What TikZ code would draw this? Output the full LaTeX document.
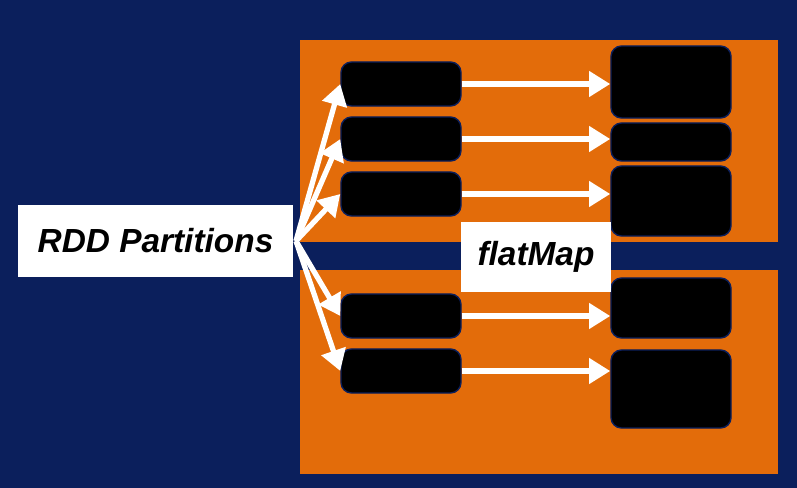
\documentclass[tikz,border=0pt]{standalone}
\usepackage{fontspec}
\setmainfont{Liberation Sans}
\usetikzlibrary{arrows.meta}
\definecolor{navy}{HTML}{0B1F5C}
\definecolor{spark}{HTML}{E36C0A}
\tikzset{
  part/.style={fill=black,draw=navy,rounded corners=3pt,thin},
  flow/.style={draw=white,line width=1.5pt,-{Triangle[length=6pt,width=7pt]}},
  label/.style={fill=white,font=\fontsize{9.5}{11}\selectfont\bfseries\itshape,inner sep=0pt}
}
\begin{document}
\begin{tikzpicture}[x=0.01cm,y=-0.01cm]
  \fill[navy] (0,0) rectangle (797,488);
  \fill[spark] (300,40) rectangle (778,242);
  \fill[spark] (300,270) rectangle (778,474);
  % input partitions
  \node[part,minimum width=1.2cm,minimum height=0.44cm] (p1) at (401,84) {};
  \node[part,minimum width=1.2cm,minimum height=0.44cm] (p2) at (401,139) {};
  \node[part,minimum width=1.2cm,minimum height=0.44cm] (p3) at (401,194) {};
  \node[part,minimum width=1.2cm,minimum height=0.44cm] (p4) at (401,316) {};
  \node[part,minimum width=1.2cm,minimum height=0.44cm] (p5) at (401,371) {};
  % output partitions
  \node[part,minimum width=1.2cm,minimum height=0.72cm] (q1) at (671,82) {};
  \node[part,minimum width=1.2cm,minimum height=0.38cm] (q2) at (671,142) {};
  \node[part,minimum width=1.2cm,minimum height=0.70cm] (q3) at (671,201) {};
  \node[part,minimum width=1.2cm,minimum height=0.60cm] (q4) at (671,308) {};
  \node[part,minimum width=1.2cm,minimum height=0.78cm] (q5) at (671,389) {};
  \node[label,minimum width=2.75cm,minimum height=0.72cm] (rdd) at (155.5,241) {RDD Partitions};
  \node[label,minimum width=1.5cm,minimum height=0.70cm] (fm) at (536,257) {flatMap};
  \coordinate (src) at (296,241);
  \foreach \p in {p1,p2,p3,p4,p5}
    \draw[flow] (src) -- (\p.west);
  \draw[flow] (p1.east) -- (q1.west |- p1.east);
  \draw[flow] (p2.east) -- (q2.west |- p2.east);
  \draw[flow] (p3.east) -- (q3.west |- p3.east);
  \draw[flow] (p4.east) -- (q4.west |- p4.east);
  \draw[flow] (p5.east) -- (q5.west |- p5.east);
\end{tikzpicture}
\end{document}
